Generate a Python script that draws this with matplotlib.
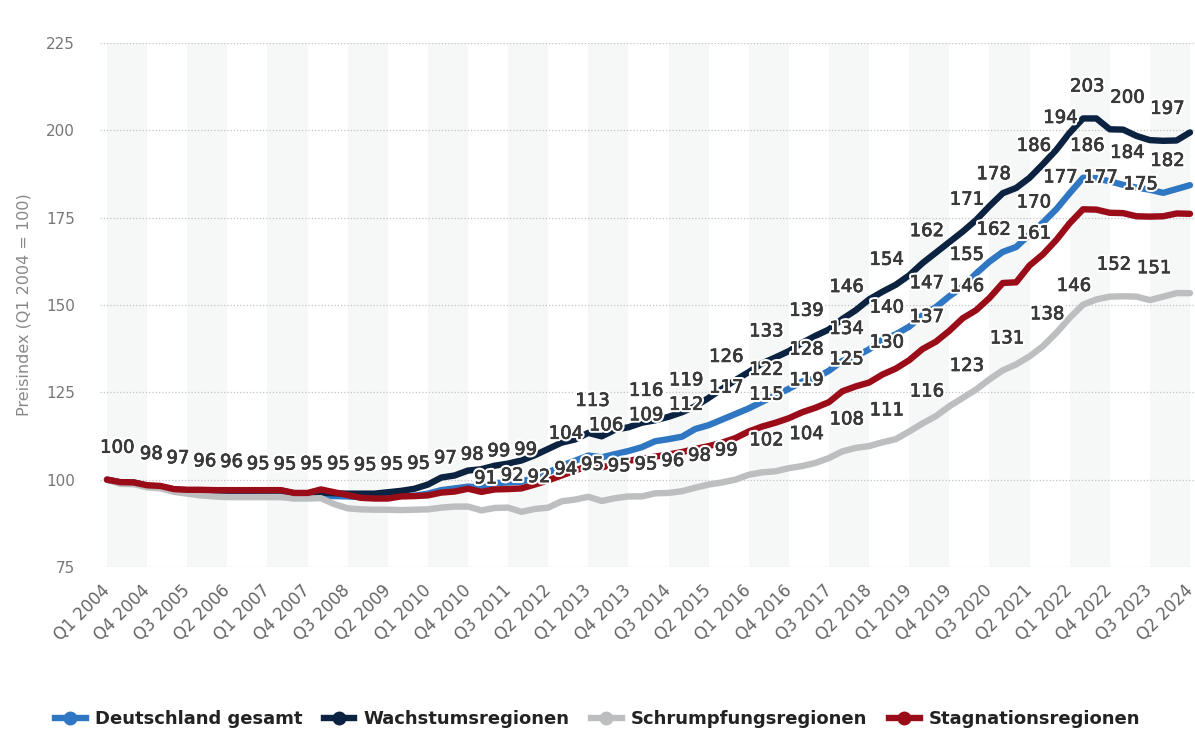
import matplotlib
matplotlib.use("Agg")
import matplotlib.pyplot as plt
import matplotlib.patheffects as pe
from matplotlib.lines import Line2D

plt.rcParams['font.family'] = ['DejaVu Sans']

# Quartale Q1 2004 .. Q2 2024
quarters = [f"Q{q} {y}" for y in range(2004, 2025) for q in range(1, 5)][:82]

# Preisindex (Q1 2004 = 100)
deutschland = [100.0, 99.2, 99.0, 98.2, 97.8, 97.0, 96.4, 96.1, 95.8, 95.9,
               95.5, 95.3, 95.2, 95.2, 95.3, 95.3, 95.4, 95.3, 95.2, 95.0,
               95.1, 95.2, 95.4, 95.4, 96.0, 97.0, 97.5, 98.0, 97.8, 99.0,
               99.2, 99.4, 100.6, 102.0, 104.0, 105.4, 106.9, 106.4, 107.3, 108.2,
               109.3, 111.0, 111.6, 112.3, 114.5, 115.6, 117.2, 118.8, 120.4, 122.3,
               124.2, 126.0, 128.1, 129.0, 131.2, 134.0, 135.3, 137.3, 140.1, 141.6,
               143.8, 147.1, 149.4, 152.5, 155.2, 159.0, 162.4, 165.2, 166.6, 170.2,
               173.6, 177.4, 182.0, 186.4, 186.3, 185.4, 184.4, 183.6, 183.0, 182.1,
               183.2, 184.3]
wachstum = [100.0, 99.2, 99.2, 98.3, 98.0, 97.2, 97.0, 97.0, 96.9, 96.9,
            96.9, 96.9, 96.9, 96.9, 96.1, 96.1, 96.3, 96.1, 96.0, 96.0,
            96.0, 96.4, 96.8, 97.4, 98.6, 100.6, 101.2, 102.6, 103.0, 104.0,
            104.6, 105.5, 107.0, 108.8, 110.6, 111.5, 113.4, 112.4, 114.3, 115.0,
            116.3, 117.0, 118.0, 119.3, 121.0, 123.4, 126.0, 128.5, 130.8, 133.3,
            135.0, 136.8, 139.2, 141.2, 143.0, 146.0, 148.5, 151.6, 153.8, 155.8,
            158.5, 162.0, 165.0, 168.0, 171.0, 174.3, 178.3, 182.0, 183.5, 186.4,
            190.3, 194.4, 199.3, 203.4, 203.4, 200.3, 200.2, 198.4, 197.2, 197.0,
            197.1, 199.4]
schrumpfung = [100.0, 98.8, 98.7, 97.8, 97.5, 96.5, 96.0, 95.5, 95.2, 95.0,
               95.0, 95.0, 95.0, 95.0, 94.6, 94.6, 94.7, 93.0, 91.8, 91.5,
               91.4, 91.4, 91.3, 91.4, 91.5, 92.0, 92.3, 92.3, 91.2, 91.9,
               92.0, 90.8, 91.6, 92.0, 93.8, 94.3, 95.1, 93.9, 94.7, 95.2,
               95.2, 96.1, 96.2, 96.7, 97.7, 98.6, 99.2, 100.0, 101.4, 102.1,
               102.4, 103.3, 103.9, 104.8, 106.2, 108.1, 109.1, 109.6, 110.7, 111.6,
               113.8, 116.1, 118.2, 121.0, 123.4, 125.8, 128.7, 131.3, 133.0, 135.3,
               138.2, 142.0, 146.3, 150.1, 151.6, 152.4, 152.5, 152.4, 151.4, 152.4,
               153.4, 153.4]
stagnation = [100.0, 99.3, 99.2, 98.4, 98.2, 97.3, 97.1, 97.1, 97.0, 97.0,
              97.0, 97.0, 97.0, 97.0, 96.2, 96.2, 97.2, 96.4, 95.6, 94.8,
              94.6, 94.6, 95.2, 95.3, 95.5, 96.3, 96.6, 97.4, 96.5, 97.2,
              97.3, 97.5, 98.6, 99.8, 101.2, 102.6, 104.0, 103.5, 104.5, 105.4,
              106.0, 106.6, 107.2, 107.9, 108.8, 109.6, 110.6, 111.9, 113.8, 115.2,
              116.3, 117.6, 119.3, 120.6, 122.2, 125.3, 126.7, 127.8, 130.1, 131.8,
              134.2, 137.4, 139.5, 142.6, 146.2, 148.5, 152.0, 156.3, 156.5, 161.3,
              164.5, 168.6, 173.4, 177.4, 177.3, 176.4, 176.3, 175.4, 175.3, 175.4,
              176.2, 176.1]

# Quartale mit sichtbarem Datenlabel je Reihe
labels_deutschland = [0, 3, 5, 7, 9, 11, 13, 15, 17, 19, 21, 23, 25, 27, 29, 31,
                      34, 37, 40, 43, 46, 49, 52, 55, 58, 61, 64, 66, 69, 71, 73, 76, 79]
labels_wachstum = [36, 40, 43, 46, 49, 52, 55, 58, 61, 64, 66, 69, 71, 73, 76, 79]
labels_schrumpfung = [28, 30, 32, 34, 36, 38, 40, 42, 44, 46, 49, 52, 55, 58, 61,
                      64, 67, 70, 72, 75, 78]
labels_stagnation = [49, 52, 55, 58, 61, 64, 69, 74, 77]

series_names = ["Deutschland gesamt", "Wachstumsregionen",
                "Schrumpfungsregionen", "Stagnationsregionen"]
colors = ["#2f77c3", "#0b2341", "#bdbec0", "#9b0c19"]

series = [deutschland, wachstum, schrumpfung, stagnation]
label_idx = [labels_deutschland, labels_wachstum, labels_schrumpfung, labels_stagnation]

fig = plt.figure(figsize=(11.95, 7.31), dpi=100)
ax = fig.add_axes([100 / 1195, 164 / 731, 1095 / 1195, 524 / 731])

x = list(range(len(quarters)))

# Hintergrundstreifen
for i in range(0, len(quarters) - 1, 6):
    ax.axvspan(i, i + 3, color="#f6f7f7", zorder=0, lw=0)

for vals, col in zip(series, colors):
    ax.plot(x, vals, color=col, lw=4.6, solid_joinstyle="round",
            solid_capstyle="round", zorder=3)

# weisser Rand + leicht kraeftigere Schrift wie im Original
lab_col = "#3a3a3a"
halo = [pe.withStroke(linewidth=3.5, foreground="white"),
        pe.withStroke(linewidth=0.5, foreground=lab_col)]
for vals, idxs in zip(series, label_idx):
    for i in idxs:
        if i == 0:
            ax.annotate(f"{vals[i]:.0f}", (i, vals[i]), xytext=(-5, 23),
                        textcoords="offset points", ha="left", va="center",
                        fontsize=13, color=lab_col, zorder=5, path_effects=halo)
        else:
            ax.annotate(f"{vals[i]:.0f}", (i, vals[i]), xytext=(3, 23),
                        textcoords="offset points", ha="center", va="center",
                        fontsize=13, color=lab_col, zorder=5, path_effects=halo)

ax.set_xlim(-7 / 13.37, 1088 / 13.37)
ax.set_ylim(75, 225)
ax.set_yticks(range(75, 226, 25))
ax.yaxis.grid(True, linestyle=(0, (1, 1.6)), color="#c4c4c4", lw=0.9, zorder=1)
ax.set_axisbelow(True)

ticks = list(range(0, len(quarters), 3))
ax.set_xticks(ticks)
ax.set_xticklabels([quarters[t] for t in ticks], rotation=45, ha="right",
                   va="center", rotation_mode="anchor")
ax.tick_params(axis="x", length=0, pad=15, labelsize=12, labelcolor="#666666")
ax.tick_params(axis="y", length=0, pad=18, labelsize=11, labelcolor="#777777")

for s in ax.spines.values():
    s.set_visible(False)

ax.set_ylabel("Preisindex (Q1 2004 = 100)", fontsize=11.5, color="#888888")
ax.yaxis.set_label_coords(-0.063, 0.5)

handles = [Line2D([0], [0], color=c, lw=4.6, marker="o", markersize=9)
           for c in colors]
fig.legend(handles, series_names, loc="center", bbox_to_anchor=(0.5, 0.016),
           ncol=4, frameon=False, handlelength=1.7, handletextpad=0.5,
           columnspacing=1.2, prop={"size": 13, "weight": "bold"},
           labelcolor="#222222")

fig.savefig("out.png", dpi=100)
